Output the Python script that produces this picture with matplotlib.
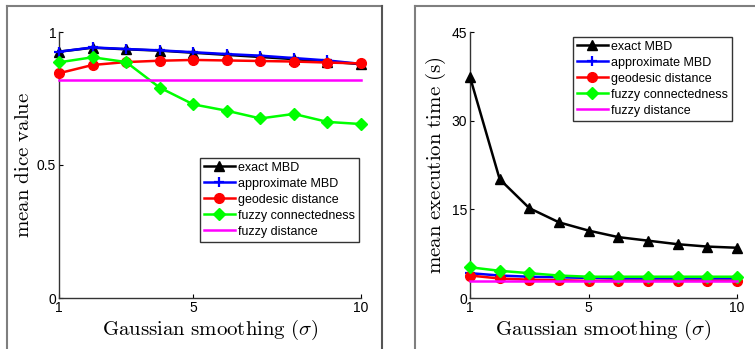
import matplotlib
matplotlib.use("Agg")
import matplotlib.pyplot as plt
from matplotlib.lines import Line2D

plt.rcParams['mathtext.fontset'] = 'cm'
plt.rcParams['font.family'] = ['Liberation Sans', 'DejaVu Sans']

sigma = [1, 2, 3, 4, 5, 6, 7, 8, 9, 10]
series_names = ["exact MBD", "approximate MBD", "geodesic distance",
                "fuzzy connectedness", "fuzzy distance"]

dice_exact = [0.926, 0.941, 0.935, 0.930, 0.922, 0.914, 0.906, 0.898, 0.889, 0.879]
dice_approx = [0.926, 0.942, 0.936, 0.931, 0.924, 0.917, 0.911, 0.902, 0.893, 0.880]
dice_geo = [0.845, 0.876, 0.887, 0.892, 0.895, 0.893, 0.891, 0.889, 0.885, 0.882]
dice_fc = [0.886, 0.905, 0.887, 0.791, 0.728, 0.704, 0.675, 0.692, 0.662, 0.654]
dice_fd = [0.821, 0.821, 0.821, 0.821, 0.821, 0.821, 0.821, 0.821, 0.821, 0.821]

time_exact = [37.4, 20.1, 15.2, 12.8, 11.4, 10.3, 9.7, 9.1, 8.7, 8.5]
time_approx = [4.2, 3.8, 3.6, 3.5, 3.4, 3.3, 3.3, 3.3, 3.3, 3.3]
time_geo = [3.8, 3.3, 3.1, 3.0, 2.9, 2.9, 2.9, 2.9, 2.9, 2.9]
time_fc = [5.2, 4.6, 4.2, 3.8, 3.6, 3.6, 3.6, 3.6, 3.6, 3.6]
time_fd = [2.8, 2.8, 2.8, 2.8, 2.8, 2.8, 2.8, 2.8, 2.8, 2.8]

styles = [
    dict(color='black', marker='^', markersize=7),
    dict(color='#0000ff', marker='+', markersize=6.5, markeredgewidth=1.6),
    dict(color='#ff0000', marker='o', markersize=7),
    dict(color='#00ff00', marker='D', markersize=6),
    dict(color='#ff00ff', marker=None),
]

W, H = 755, 349
fig = plt.figure(figsize=(W / 100, H / 100), dpi=100)

# gray panel frames
def frame(x0, x1, y0, right=True):
    fx0, fx1 = x0 / W, x1 / W
    fy0 = 1 - y0 / H
    kw = dict(color='#7f7f7f', lw=1.5, transform=fig.transFigure)
    fig.add_artist(Line2D([fx0, fx0], [-0.01, fy0], **kw))
    fig.add_artist(Line2D([fx0, fx1], [fy0, fy0], **kw))
    if right:
        fig.add_artist(Line2D([fx1, fx1], [-0.01, fy0], color='#555555', lw=1.5,
                              transform=fig.transFigure))

frame(7, 382, 6)
frame(415, 760, 6, right=False)

def make_axes(left_px, right_px, ylim, yticks, yticklabels, ylabel, data, leg_anchor):
    ax = fig.add_axes([left_px / W, (H - 298) / H, (right_px - left_px) / W, 266 / H])
    for vals, st, name in zip(data, styles, series_names):
        ax.plot(sigma, vals, lw=1.8, label=name, clip_on=False, zorder=3, **st)
    ax.set_xlim(1, 10)
    ax.set_ylim(*ylim)
    ax.set_xticks([1, 5, 10])
    ax.set_xticklabels(['1', '5', '10'])
    ax.set_yticks(yticks)
    ax.set_yticklabels(yticklabels)
    ax.spines['top'].set_visible(False)
    ax.spines['right'].set_visible(False)
    for s in ('left', 'bottom'):
        ax.spines[s].set_color('#333333')
        ax.spines[s].set_linewidth(1.0)
    ax.tick_params(direction='in', length=3, labelsize=10, pad=2, colors='black')
    ax.set_xlabel(r'$\mathrm{Gaussian\ smoothing\ (}\sigma\mathrm{)}$', fontsize=15, labelpad=2)
    ax.set_ylabel(ylabel, fontsize=15, labelpad=3)
    leg = ax.legend(loc='upper right', bbox_to_anchor=leg_anchor, fontsize=9,
                    frameon=True, fancybox=False, edgecolor='black', handlelength=2.5,
                    handletextpad=0.25, labelspacing=0.32, borderpad=0.3,
                    borderaxespad=0, handleheight=0.7)
    leg.get_frame().set_linewidth(1.0)
    leg.set_zorder(5)
    return ax

make_axes(59, 361, (0, 1), [0, 0.5, 1], ['0', '0.5', '1'],
          r'$\mathrm{mean\ dice\ value}$',
          [dice_exact, dice_approx, dice_geo, dice_fc, dice_fd], (0.993, 0.526))
make_axes(470, 737, (0, 45), [0, 15, 30, 45], ['0', '15', '30', '45'],
          r'$\mathrm{mean\ execution\ time\ (s)}$',
          [time_exact, time_approx, time_geo, time_fc, time_fd], (0.981, 0.981))

fig.savefig('out.png', dpi=100)
